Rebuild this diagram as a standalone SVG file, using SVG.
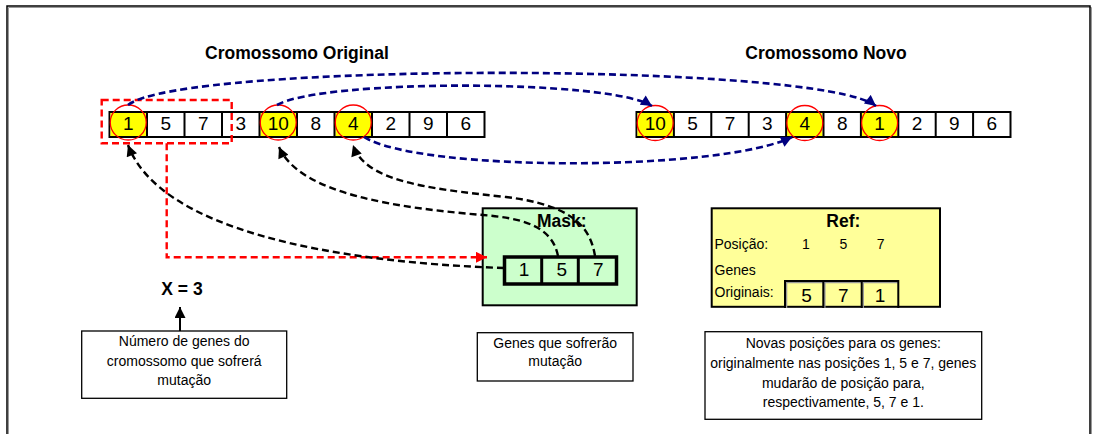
<svg xmlns="http://www.w3.org/2000/svg" width="1098" height="434" viewBox="0 0 1098 434">
<style>
.t{font-family:"Liberation Sans",Arial,sans-serif;fill:#000}
.b{font-weight:bold}
.dg{font-size:19px;text-anchor:middle}
.lbl{font-size:14px}
.c{text-anchor:middle}
.cell{fill:#fff;stroke:#000;stroke-width:2}
.hl{fill:#ffff00}
.ring{fill:none;stroke:#ff0000;stroke-width:1.3}
.box{fill:#fff;stroke:#000;stroke-width:1.3}
.nv{fill:none;stroke:#000080;stroke-width:2.6;stroke-dasharray:7,4}
.bk{fill:none;stroke:#000;stroke-width:2.4;stroke-dasharray:7,4}
.rd{fill:none;stroke:#ff0000;stroke-width:2.4;stroke-dasharray:7,4}
</style>
<defs>
<marker id="aN" viewBox="0 0 10 10" refX="10" refY="5" markerWidth="13" markerHeight="11" markerUnits="userSpaceOnUse" orient="auto"><path d="M0,0 L10,5 L0,10 z" fill="#000080"/></marker>
<marker id="aB" viewBox="0 0 10 10" refX="10" refY="5" markerWidth="13" markerHeight="11" markerUnits="userSpaceOnUse" orient="auto"><path d="M0,0 L10,5 L0,10 z" fill="#000"/></marker>
<marker id="aR" viewBox="0 0 10 10" refX="10" refY="5" markerWidth="13" markerHeight="11" markerUnits="userSpaceOnUse" orient="auto"><path d="M0,0 L10,5 L0,10 z" fill="#ff0000"/></marker>
</defs>
<rect width="1098" height="434" fill="#fff"/>
<g id="frame">
<path d="M8.5,440 V7.5 H1091.5 V440" fill="none" stroke="#999" stroke-width="1"/>
<path d="M7,440 V6 H1090 V440" fill="none" stroke="#000" stroke-width="1.5"/>
</g>
<g id="titles">
<text class="t b" x="297" y="59" font-size="17.5" text-anchor="middle">Cromossomo Original</text>
<text class="t b" x="826" y="59" font-size="17.5" text-anchor="middle">Cromossomo Novo</text>
</g>
<g id="cromossomo-original">
<rect class="cell" x="109.5" y="112" width="375" height="25" stroke-width="2.5"/>
<rect class="hl" x="110.5" y="113" width="35.5" height="23"/>
<rect class="hl" x="260.5" y="113" width="35.5" height="23"/>
<rect class="hl" x="335.5" y="113" width="35.5" height="23"/>
<path d="M147,112v25M184.5,112v25M222,112v25M259.5,112v25M297,112v25M334.5,112v25M372,112v25M409.5,112v25M447,112v25" stroke="#000" stroke-width="2"/>
<g class="t dg">
<text x="128.25" y="129.5">1</text><text x="165.75" y="129.5">5</text><text x="203.25" y="129.5">7</text><text x="240.75" y="129.5">3</text><text x="278.25" y="129.5">10</text><text x="315.75" y="129.5">8</text><text x="353.25" y="129.5">4</text><text x="390.75" y="129.5">2</text><text x="428.25" y="129.5">9</text><text x="465.75" y="129.5">6</text>
</g>
<ellipse class="ring" cx="128.25" cy="122.5" rx="18" ry="17.5"/>
<ellipse class="ring" cx="278.25" cy="122.5" rx="18" ry="17.5"/>
<ellipse class="ring" cx="353.25" cy="122.5" rx="18" ry="17.5"/>
</g>
<g id="cromossomo-novo">
<rect class="cell" x="636.5" y="112" width="374" height="25" stroke-width="2.5"/>
<rect class="hl" x="637.5" y="113" width="35.4" height="23"/>
<rect class="hl" x="787.1" y="113" width="35.4" height="23"/>
<rect class="hl" x="861.9" y="113" width="35.4" height="23"/>
<path d="M673.9,112v25M711.3,112v25M748.7,112v25M786.1,112v25M823.5,112v25M860.9,112v25M898.3,112v25M935.7,112v25M973.1,112v25" stroke="#000" stroke-width="2"/>
<g class="t dg">
<text x="655.2" y="129.5">10</text><text x="692.6" y="129.5">5</text><text x="730" y="129.5">7</text><text x="767.4" y="129.5">3</text><text x="804.8" y="129.5">4</text><text x="842.2" y="129.5">8</text><text x="879.6" y="129.5">1</text><text x="917" y="129.5">2</text><text x="954.4" y="129.5">9</text><text x="991.8" y="129.5">6</text>
</g>
<ellipse class="ring" cx="655.2" cy="123" rx="18" ry="17.5"/>
<ellipse class="ring" cx="804.8" cy="123" rx="18" ry="17.5"/>
<ellipse class="ring" cx="879.6" cy="123" rx="18" ry="17.5"/>
</g>
<g id="selecao">
<rect class="rd" x="101.7" y="100" width="130" height="43.3"/>
</g>
<g id="mask">
<rect x="482.7" y="208.3" width="154" height="97" fill="#ccffcc" stroke="#000" stroke-width="2"/>
<text class="t b c" x="561.7" y="226.7" font-size="17.5">Mask:</text>
<rect x="504.5" y="257" width="112" height="27" fill="#ccffcc" stroke="#000" stroke-width="3.5"/>
<path d="M541.7,257v27M578.3,257v27" stroke="#000" stroke-width="3"/>
<g class="t dg">
<text x="524" y="276">1</text><text x="561.7" y="276">5</text><text x="598.3" y="276">7</text>
</g>
</g>
<g id="ref">
<rect x="711.7" y="208.3" width="228.3" height="98.5" fill="#ffff99" stroke="#000" stroke-width="2"/>
<text class="t b c" x="843.3" y="226.7" font-size="17.5">Ref:</text>
<text class="t lbl" x="714.5" y="249.3">Posição:</text>
<text class="t lbl c" x="806" y="249.3">1</text>
<text class="t lbl c" x="843.3" y="249.3">5</text>
<text class="t lbl c" x="880.7" y="249.3">7</text>
<text class="t lbl" x="714.5" y="275">Genes</text>
<text class="t lbl" x="714.5" y="296.7">Originais:</text>
<path d="M786.5,308V282.5H898M824.8,282.5V308M863.2,282.5V308" fill="none" stroke="#999" stroke-width="1.5"/>
<path d="M785,308V281H898.3V308M823.3,281V308M861.7,281V308" fill="none" stroke="#000" stroke-width="2"/>
<g class="t dg">
<text x="806.5" y="301.7">5</text><text x="843.3" y="301.7">7</text><text x="880" y="301.7">1</text>
</g>
</g>
<g id="x-valor">
<text class="t b c" x="182" y="295" font-size="17.5">X = 3</text>
</g>
<g id="nota-x">
<rect class="box" x="81.7" y="331" width="205" height="67.3"/>
<g class="t lbl c">
<text x="184.2" y="345.5">Número de genes do</text>
<text x="184.2" y="365.5">cromossomo que sofrerá</text>
<text x="184.2" y="385">mutação</text>
</g>
</g>
<g id="nota-mask">
<rect class="box" x="477.3" y="332.7" width="155.7" height="48.3"/>
<g class="t lbl c">
<text x="555.2" y="348">Genes que sofrerão</text>
<text x="555.2" y="366">mutação</text>
</g>
</g>
<g id="nota-ref">
<rect class="box" x="705" y="331.7" width="276.7" height="87.6"/>
<g class="t lbl c">
<text x="843.3" y="348.3">Novas posições para os genes:</text>
<text x="843.3" y="368">originalmente nas posições 1, 5 e 7, genes</text>
<text x="843.3" y="387.7">mudarão de posição para,</text>
<text x="843.3" y="407.3">respectivamente, 5, 7 e 1.</text>
</g>
</g>
<g id="connectors">
<path class="nv" d="M128,105 C182,62 820,62 876,106" marker-end="url(#aN)"/>
<path class="nv" d="M277,105 C322,79 610,79 652,106" marker-end="url(#aN)"/>
<path class="nv" d="M364,137 C420,172 720,172 792,137" marker-end="url(#aN)"/>
<path class="rd" d="M166.7,143.3 V257.3 H487" marker-end="url(#aR)"/>
<path class="bk" d="M504,268 C330,262 160,230 128,145" marker-end="url(#aB)"/>
<path class="bk" d="M558,256 C552,225 520,218 483,215 C400,208 300,195 279,147" marker-end="url(#aB)"/>
<path class="bk" d="M595,256 C590,225 570,205 506,197 C420,188 365,180 353,145" marker-end="url(#aB)"/>
<path d="M180,331 V307" stroke="#000" stroke-width="2" fill="none" marker-end="url(#aB)"/>
</g>
</svg>
